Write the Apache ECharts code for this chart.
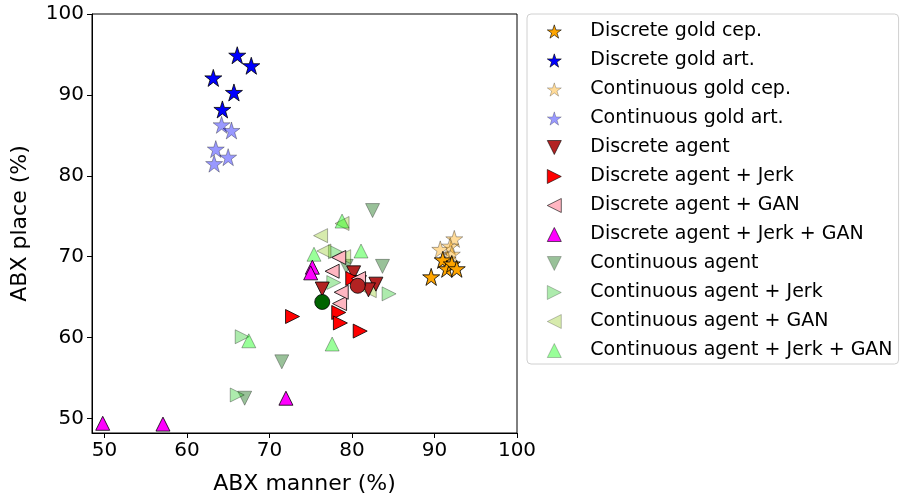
<!DOCTYPE html>
<html>
<head>
<meta charset="utf-8">
<script src="https://cdn.jsdelivr.net/npm/echarts@6/dist/echarts.min.js"></script>
<style>
html,body{margin:0;padding:0;background:#fff;}
#chart{width:904px;height:500px;}
</style>
</head>
<body>
<div id="chart"></div>
<script>
// ---- data ----
const seriesNames = [
  "Discrete gold cep.", "Discrete gold art.", "Continuous gold cep.", "Continuous gold art.",
  "Discrete agent", "Discrete agent + Jerk", "Discrete agent + GAN", "Discrete agent + Jerk + GAN",
  "Continuous agent", "Continuous agent + Jerk", "Continuous agent + GAN", "Continuous agent + Jerk + GAN"
];
const discreteGoldCep = [[89.6,67.5],[91.0,69.6],[91.5,68.5],[92.1,69.1],[92.7,68.5]];
const discreteGoldArt = [[66.1,94.9],[67.8,93.6],[63.2,92.1],[65.7,90.3],[64.3,88.2]];
const continuousGoldCep = [[92.4,72.2],[90.7,70.9],[91.9,71.3],[92.1,70.3],[91.6,69.7]];
const continuousGoldArt = [[64.2,86.3],[65.4,85.6],[63.5,83.3],[65.0,82.3],[63.3,81.5]];
const discreteAgent = [[76.4,66.0],[80.2,68.0],[80.9,66.8],[82.9,66.6],[82.0,65.9]];
const discreteJerk = [[72.8,62.6],[78.4,63.1],[78.6,61.8],[81.0,60.8],[80.1,67.3]];
const discreteGan = [[77.6,68.2],[78.4,69.9],[78.5,64.2],[80.8,67.3],[78.7,65.6]];
const discreteJerkGan = [[49.8,49.4],[57.1,49.3],[72.0,52.5],[75.2,68.7],[75.0,68.0]];
const continuousAgent = [[82.5,75.7],[83.7,68.8],[71.5,57.0],[67.0,52.5],[79.3,68.8]];
const continuousJerk = [[84.5,65.4],[66.7,60.1],[66.1,52.9],[77.8,66.8],[78.0,70.6]];
const continuousGan = [[76.2,72.6],[76.6,70.7],[78.8,74.1],[82.1,65.8],[79.0,70.0]];
const continuousJerkGan = [[78.8,74.4],[81.1,70.7],[75.4,70.3],[67.5,59.6],[77.6,59.2]];
const continuousMean = [[76.4,64.4]];
const discreteMean = [[80.7,66.4]];
const xTicks = [50,60,70,80,90,100];
const yTicks = [50,60,70,80,90,100];

// ---- styling ----
const STAR = 'path://M50,0 L61.2,34.5 L97.6,34.5 L68.2,55.9 L79.4,90.5 L50,69.1 L20.6,90.5 L31.8,55.9 L2.4,34.5 L38.8,34.5 Z';
const TRI_UP = 'path://M50,0 L100,100 L0,100 Z';
const TRI_DOWN = 'path://M0,0 L100,0 L50,100 Z';
const TRI_RIGHT = 'path://M0,0 L100,50 L0,100 Z';
const TRI_LEFT = 'path://M100,0 L0,50 L100,100 Z';
function mk(name, data, symbol, color, opacity, size, z) {
  return {
    name: name, type: 'scatter', data: data, symbol: symbol,
    symbolSize: size, z: z,
    itemStyle: { color: color, opacity: opacity, borderColor: '#000', borderWidth: 0.8 },
    emphasis: { disabled: true }
  };
}
const series = [
  mk(seriesNames[2], continuousGoldCep, STAR, '#FFA500', 0.4, 17, 2),
  mk(seriesNames[3], continuousGoldArt, STAR, '#0000FF', 0.4, 17, 2),
  mk(seriesNames[8], continuousAgent, TRI_DOWN, '#006400', 0.4, 14, 2),
  mk(seriesNames[9], continuousJerk, TRI_RIGHT, '#32CD32', 0.4, 14, 2),
  mk(seriesNames[10], continuousGan, TRI_LEFT, '#9ACD32', 0.4, 14, 2),
  mk(seriesNames[11], continuousJerkGan, TRI_UP, '#00FF00', 0.4, 14, 2),
  mk(seriesNames[0], discreteGoldCep, STAR, '#FFA500', 1, 17, 3),
  mk(seriesNames[1], discreteGoldArt, STAR, '#0000FF', 1, 17, 3),
  mk(seriesNames[4], discreteAgent, TRI_DOWN, '#B22222', 1, 14, 3),
  mk(seriesNames[5], discreteJerk, TRI_RIGHT, '#FF0000', 1, 14, 3),
  mk(seriesNames[6], discreteGan, TRI_LEFT, '#FFB6C1', 1, 14, 3),
  mk(seriesNames[7], discreteJerkGan, TRI_UP, '#FF00FF', 1, 14, 3),
  mk('cmean', continuousMean, 'circle', '#006400', 1, 15, 4),
  mk('dmean', discreteMean, 'circle', '#B22222', 1, 15, 4)
];

const FONT = 'DejaVu Sans';
const chart = echarts.init(document.getElementById('chart'), null, { renderer: 'canvas' });
chart.setOption({
  animation: false,
  backgroundColor: '#fff',
  textStyle: { fontFamily: FONT },
  grid: { left: 92, right: 387, top: 14, bottom: 65, show: true, borderColor: '#000', borderWidth: 1 },
  xAxis: {
    type: 'value', min: 48.5, max: 100,
    name: 'ABX manner (%)', nameLocation: 'middle', nameGap: 40,
    nameTextStyle: { fontSize: 22, color: '#000', fontFamily: FONT },
    axisLine: { show: true, onZero: false, lineStyle: { color: '#000', width: 1 } },
    axisTick: { show: true, length: 5, lineStyle: { color: '#000' }, customValues: xTicks },
    axisLabel: { fontSize: 20, color: '#000', margin: 8, customValues: xTicks, fontFamily: FONT },
    splitLine: { show: false }
  },
  yAxis: {
    type: 'value', min: 48.2, max: 100,
    name: 'ABX place (%)', nameLocation: 'middle', nameGap: 61, nameRotate: 90,
    nameTextStyle: { fontSize: 22, color: '#000', fontFamily: FONT },
    axisLine: { show: true, onZero: false, lineStyle: { color: '#000', width: 1 } },
    axisTick: { show: true, length: 5, lineStyle: { color: '#000' }, customValues: yTicks },
    axisLabel: { fontSize: 20, color: '#000', margin: 8, customValues: yTicks, fontFamily: FONT },
    splitLine: { show: false }
  },
  legend: {
    data: seriesNames,
    orient: 'vertical', left: 527, top: 14,
    itemWidth: 14, itemHeight: 14, itemGap: 10,
    padding: [8, 6, 4, 20],
    borderColor: '#d0d0d0', borderWidth: 1, borderRadius: 4,
    backgroundColor: '#fff',
    selectedMode: false,
    itemStyle: { borderWidth: 0.6 },
    textStyle: { fontSize: 19, color: '#000', fontFamily: FONT, padding: [0, 0, 0, 24] }
  },
  series: series
});
</script>
</body>
</html>
